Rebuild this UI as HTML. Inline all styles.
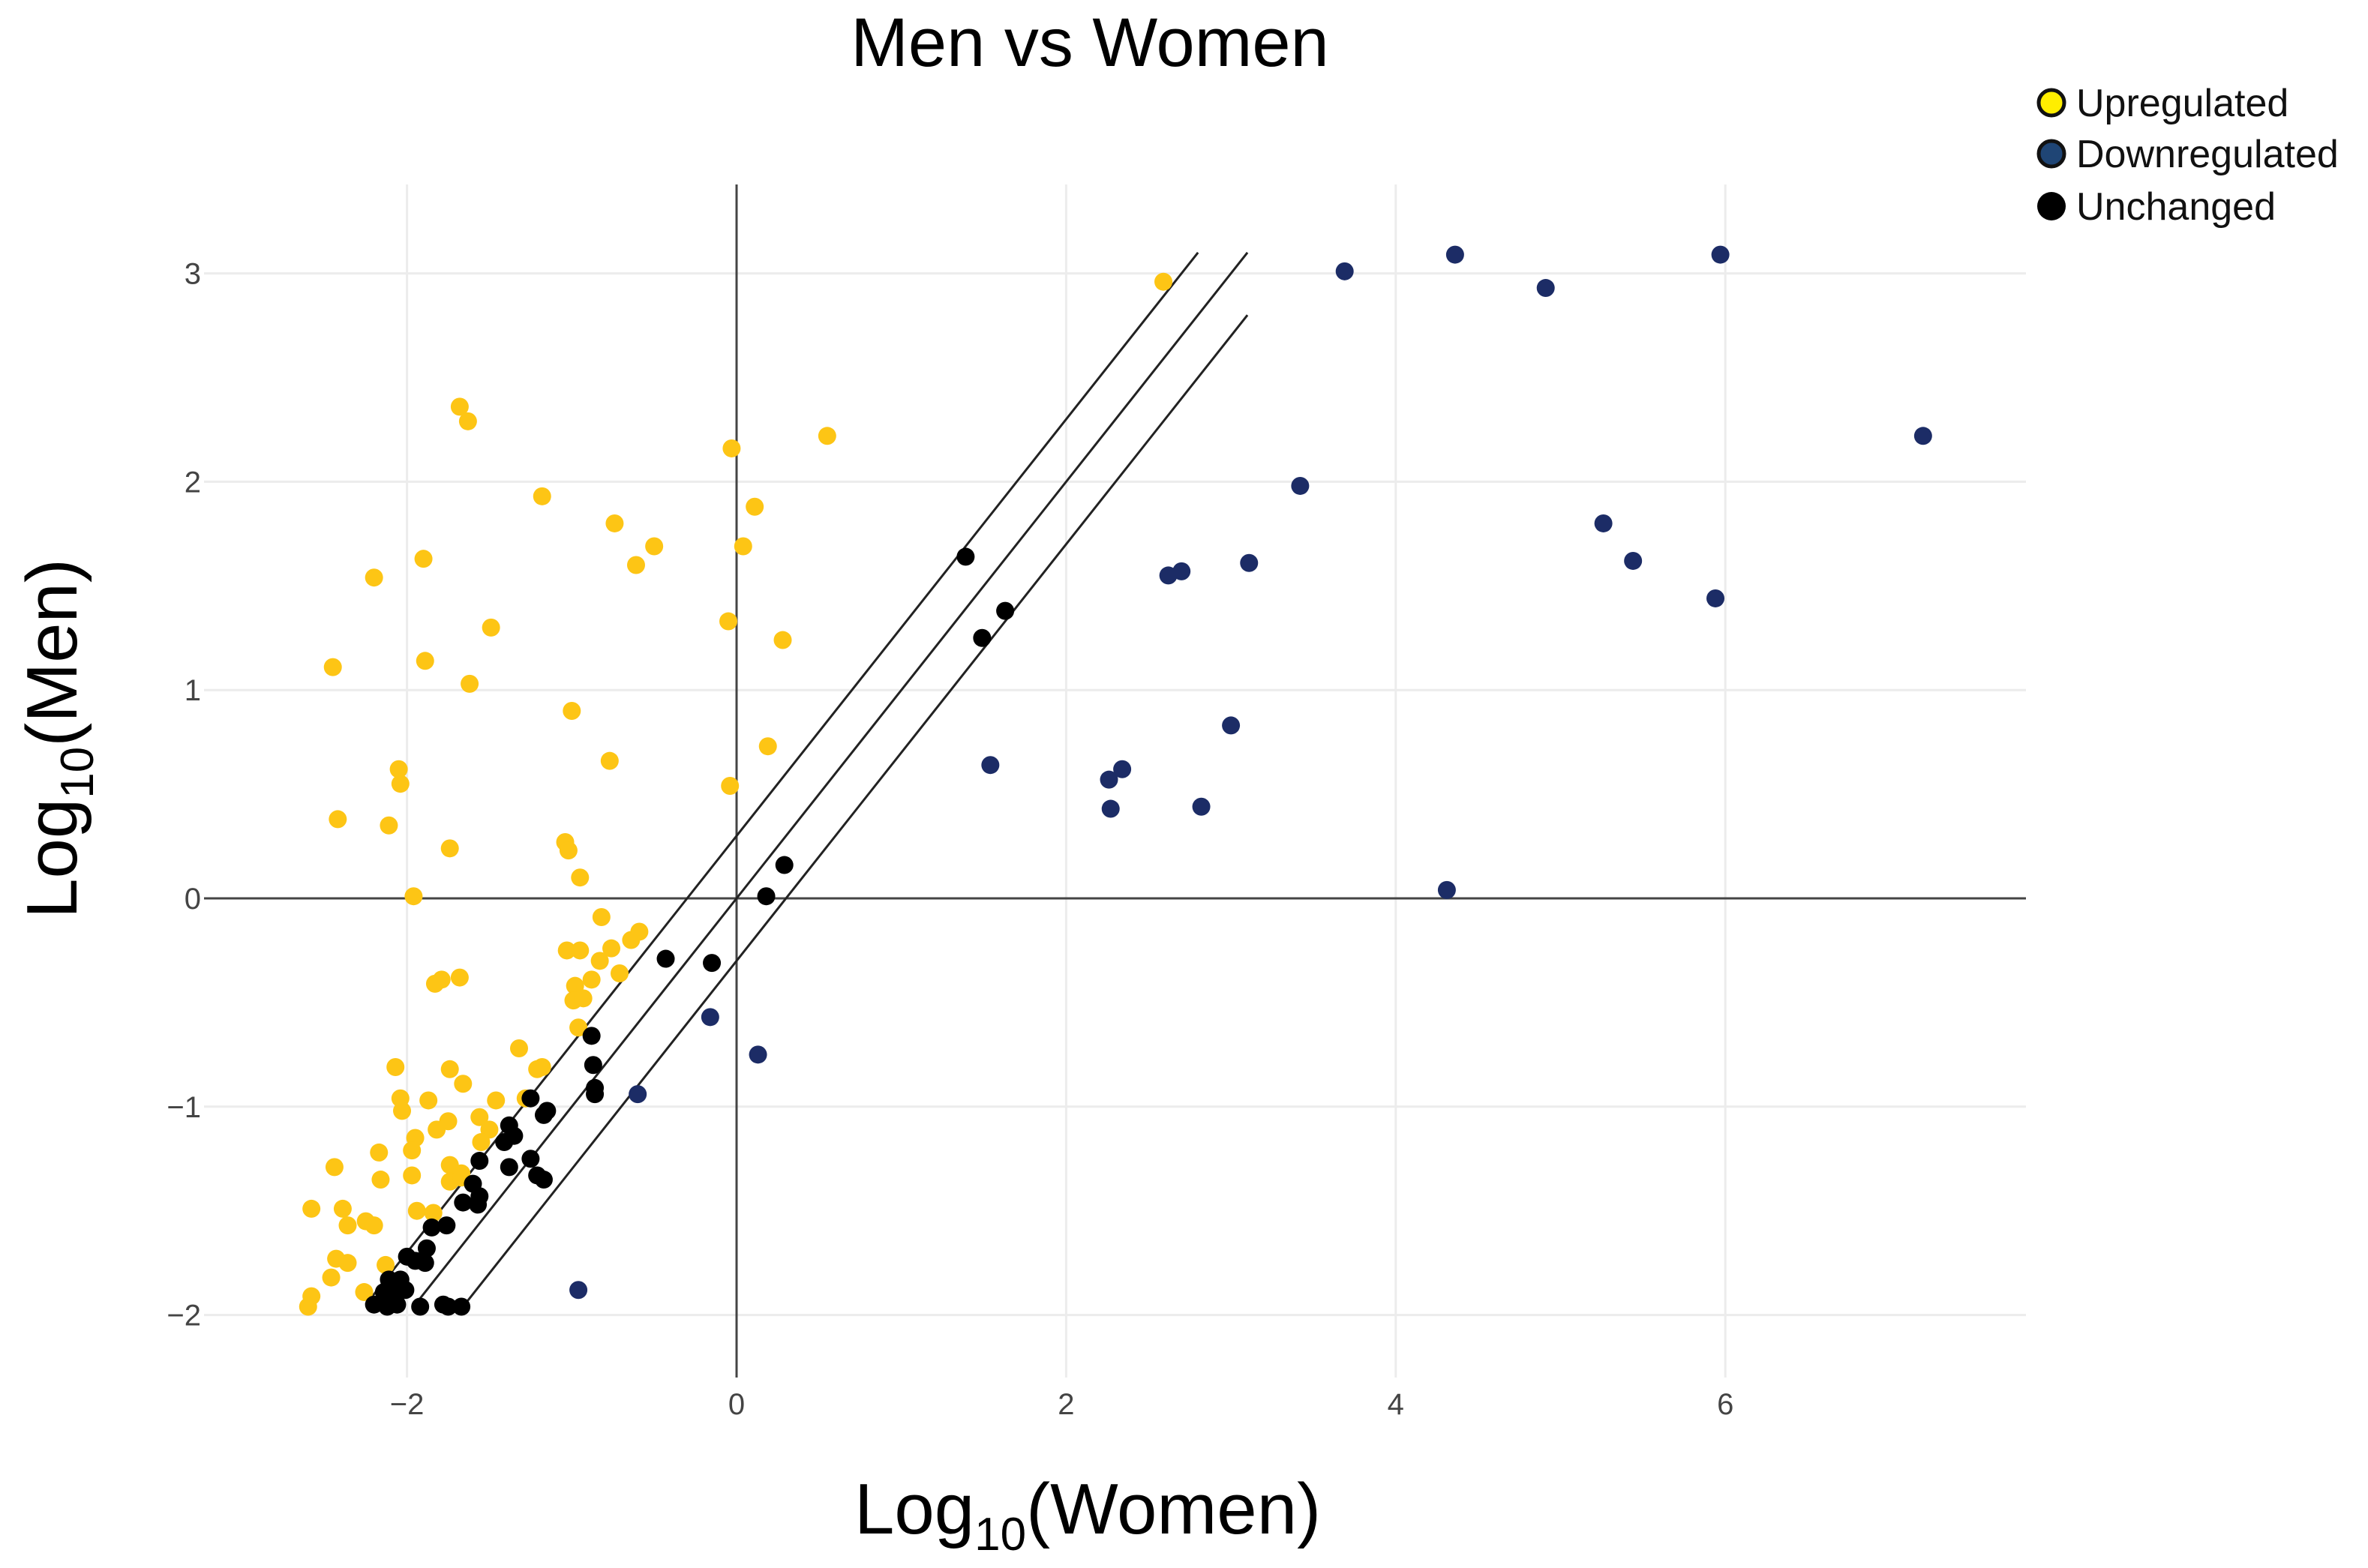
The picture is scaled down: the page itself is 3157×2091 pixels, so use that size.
<!DOCTYPE html>
<html><head><meta charset="utf-8"><style>
html,body{margin:0;padding:0;background:#fff;}
svg{display:block;font-family:"Liberation Sans",sans-serif;}
</style></head><body>
<svg id="chart" width="3157" height="2091" viewBox="0 0 3157 2091" xmlns="http://www.w3.org/2000/svg">
<text x="1453" y="88" font-size="92" text-anchor="middle" fill="#000">Men vs Women</text>
<g id="grid"></g>
<g id="refs"></g>
<g id="pts"></g>
<g id="ticks"></g>
<text x="1450" y="2045" font-size="96" text-anchor="middle" fill="#000">Log<tspan font-size="62" dy="22">10</tspan><tspan dy="-22">(Women)</tspan></text>
<text transform="translate(102,985) rotate(-90)" font-size="96" text-anchor="middle" fill="#000">Log<tspan font-size="62" dy="22">10</tspan><tspan dy="-22">(Men)</tspan></text>
<g>
<g><circle cx="2735" cy="137" r="17" fill="#ffee00" stroke="#111" stroke-width="5"/><text x="2768" y="155" font-size="52" fill="#111">Upregulated</text></g>
<g><circle cx="2735" cy="205" r="17" fill="#1f4575" stroke="#111" stroke-width="5"/><text x="2768" y="223" font-size="52" fill="#111">Downregulated</text></g>
<g><circle cx="2735" cy="275" r="19" fill="#000"/><text x="2768" y="293" font-size="52" fill="#111">Unchanged</text></g>
</g>
</svg>
<script>
const xTicks=[-2,0,2,4,6];
const yTicks=[-2,-1,0,1,2,3];
const upX=[-1.68,-1.63,-0.03,0.55,-1.18,0.11,-0.74,-0.50,0.04,-0.61,-1.90,-2.20,-1.49,-0.05,0.28,-2.45,-1.89,-1.62,-1.00,-0.77,0.19,-2.05,-2.04,-0.04,-2.42,-2.11,-1.74,-1.04,-1.02,-0.95,-1.96,-0.82,-1.03,-0.95,-0.83,-0.76,-0.64,-0.59,-0.71,-1.83,-1.79,-1.68,-0.98,-0.88,-0.99,-0.93,-0.96,-1.32,-1.21,-1.18,-2.07,-1.74,-1.66,-2.04,-2.03,-1.87,-1.46,-1.28,-1.75,-1.82,-1.56,-1.50,-1.55,-1.95,-1.97,-2.17,-2.44,-1.97,-1.74,-1.67,-1.74,-2.16,-1.67,-2.58,-2.39,-1.94,-1.84,-2.36,-2.25,-2.20,-2.43,-2.36,-2.13,-2.46,-2.26,-2.58,-2.60,2.59];
const upY=[2.36,2.29,2.16,2.22,1.93,1.88,1.80,1.69,1.69,1.60,1.63,1.54,1.30,1.33,1.24,1.11,1.14,1.03,0.90,0.66,0.73,0.62,0.55,0.54,0.38,0.35,0.24,0.27,0.23,0.10,0.01,-0.09,-0.25,-0.25,-0.30,-0.24,-0.20,-0.16,-0.36,-0.41,-0.39,-0.38,-0.42,-0.39,-0.49,-0.48,-0.62,-0.72,-0.82,-0.81,-0.81,-0.82,-0.89,-0.96,-1.02,-0.97,-0.97,-0.96,-1.07,-1.11,-1.05,-1.11,-1.17,-1.15,-1.21,-1.22,-1.29,-1.33,-1.28,-1.32,-1.36,-1.35,-1.34,-1.49,-1.49,-1.50,-1.51,-1.57,-1.55,-1.57,-1.73,-1.75,-1.76,-1.82,-1.89,-1.91,-1.96,2.96];
const downX=[3.69,4.36,4.91,5.97,7.20,3.42,5.26,5.44,5.94,2.62,2.70,3.11,1.54,2.26,2.34,2.27,2.82,3.00,4.31,-0.16,0.13,-0.60,-0.96];
const downY=[3.01,3.09,2.93,3.09,2.22,1.98,1.80,1.62,1.44,1.55,1.57,1.61,0.64,0.57,0.62,0.43,0.44,0.83,0.04,-0.57,-0.75,-0.94,-1.88];
const unX=[0.29,0.18,-0.43,-0.15,-0.88,-0.87,-0.86,-0.86,-1.25,-1.15,-1.17,-1.38,-1.35,-1.41,-1.56,-1.38,-1.25,-1.21,-1.17,-1.60,-1.56,-1.66,-1.57,-1.85,-1.76,-1.88,-2.00,-1.95,-1.89,-2.11,-2.04,-2.09,-2.01,-2.14,-2.20,-2.12,-2.06,-1.92,-1.78,-1.75,-1.67,1.39,1.63,1.49];
const unY=[0.16,0.01,-0.29,-0.31,-0.66,-0.80,-0.91,-0.94,-0.96,-1.02,-1.04,-1.09,-1.14,-1.17,-1.26,-1.29,-1.25,-1.33,-1.35,-1.37,-1.43,-1.46,-1.47,-1.58,-1.57,-1.68,-1.72,-1.74,-1.75,-1.83,-1.83,-1.88,-1.88,-1.89,-1.95,-1.96,-1.95,-1.96,-1.95,-1.96,-1.96,1.64,1.38,1.25];
const refOffsets=[0.3,0,-0.3];
const refStart=[-2.25,-1.95,-1.65];
const refEnd=[2.8,3.1,3.1];

const NS='http://www.w3.org/2000/svg';
const X=v=>982+v*219.7;
const Y=v=>1198-v*277.8;
const L=272,R=2701,T=246,B=1837;
function mk(tag,attrs,parent){const e=document.createElementNS(NS,tag);for(const k in attrs)e.setAttribute(k,attrs[k]);parent.appendChild(e);return e;}
const grid=document.getElementById('grid'),ticks=document.getElementById('ticks'),refs=document.getElementById('refs'),pts=document.getElementById('pts');
xTicks.forEach(t=>{
  if(t!==0){const g=mk('line',{x1:X(t),x2:X(t),y1:T,y2:B,stroke:'#ececec','stroke-width':3},grid);
  
  }
  const tx=mk('text',{x:X(t),y:1886,'font-size':40,'text-anchor':'middle',fill:'#444'},ticks);
  tx.textContent=t<0?'\u2212'+(-t):String(t);
  
  
});
yTicks.forEach(t=>{
  if(t!==0){const g=mk('line',{x1:L,x2:R,y1:Y(t),y2:Y(t),stroke:'#ececec','stroke-width':3},grid);
  
  }
  const tx=mk('text',{x:268,y:Y(t)+14,'font-size':40,'text-anchor':'end',fill:'#444'},ticks);
  tx.textContent=t<0?'\u2212'+(-t):String(t);
  
  
});
const zx=mk('line',{x1:X(0),x2:X(0),y1:T,y2:B,stroke:'#444','stroke-width':3},grid);


const zy=mk('line',{x1:L,x2:R,y1:Y(0),y2:Y(0),stroke:'#444','stroke-width':3},grid);


refOffsets.forEach((o,i)=>{
  const l=mk('line',{x1:X(refStart[i]),y1:Y(refStart[i]+o),x2:X(refEnd[i]),y2:Y(refEnd[i]+o),stroke:'#222','stroke-width':3},refs);
  
  
});
function series(xs,ys,color,name){
  xs.forEach((v,i)=>{
    const c=mk('circle',{cx:X(v),cy:Y(ys[i]),r:12,fill:color},pts);
    
    
  });
}
series(upX,upY,'#fdc515','upregulated-point');
series(downX,downY,'#1c2c66','downregulated-point');
series(unX,unY,'#000','unchanged-point');
</script>
</body></html>
